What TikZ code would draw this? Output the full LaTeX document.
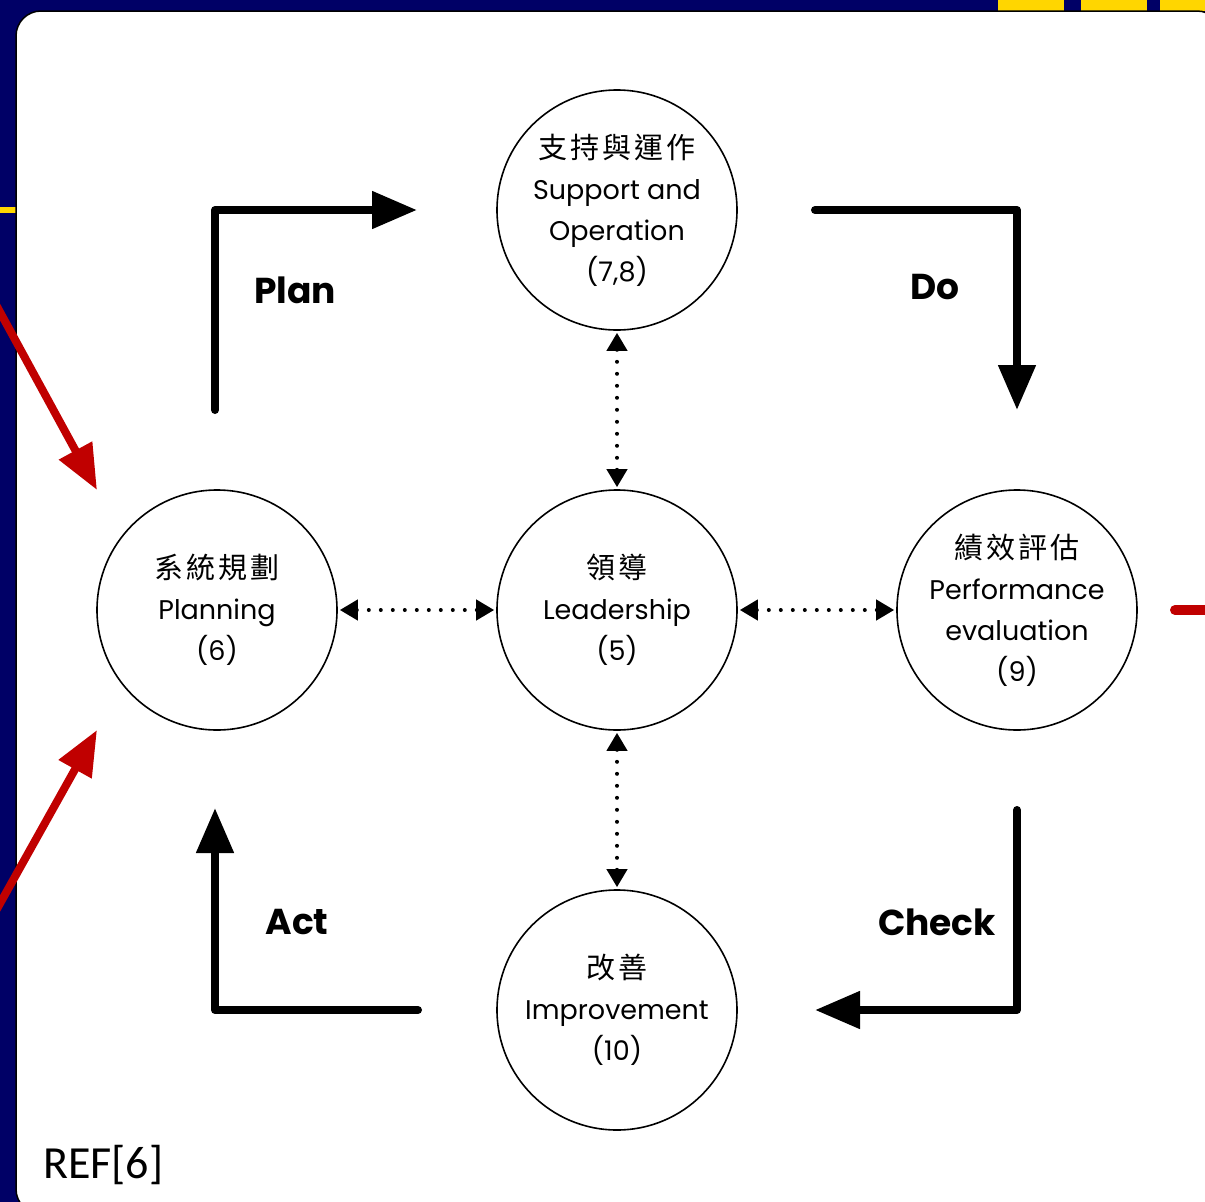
\documentclass[tikz,border=0pt]{standalone}
\usepackage{fontspec}
\setmainfont{Poppins}
\newfontfamily\cjk{Noto Sans CJK TC}[LetterSpace=10]
\newfontfamily\calib{Carlito}
\usetikzlibrary{arrows.meta}
\definecolor{navybg}{RGB}{0,0,102}
\definecolor{goldbar}{RGB}{255,214,0}
\definecolor{redarr}{RGB}{192,0,0}
\tikzset{
  stage/.style={circle, draw=black, line width=1.6pt, fill=white, minimum size=240pt, inner sep=0pt, align=center, font=\fontsize{27}{41}\selectfont},
  flow/.style={line width=8pt, line join=round, line cap=round, -{Triangle[length=45pt,width=36pt]}},
  lbl/.style={font=\fontsize{36}{40}\selectfont\bfseries},
  dots/.style={line width=4pt, dash pattern=on 0pt off 12pt, line cap=round, {Triangle[length=18pt,width=20pt,line cap=butt]}-{Triangle[length=18pt,width=20pt,line cap=butt]}, shorten <=2pt, shorten >=2pt},
  redline/.style={line width=8pt, draw=redarr, -{Triangle[length=45pt,width=36pt]}}
}
\newcommand{\zhtext}[1]{{\cjk\fontsize{29}{41}\selectfont #1}}
\begin{document}
\begin{tikzpicture}[x=1pt,y=-1pt]
\useasboundingbox (0,0) rectangle (1205,1202);
\clip (0,0) rectangle (1205,1202);
\fill[navybg] (0,0) rectangle (1205,1202);
\fill[goldbar] (998,0) rectangle (1064,11);
\fill[goldbar] (1081,0) rectangle (1147,11);
\fill[goldbar] (1160,0) rectangle (1205,11);
\fill[goldbar] (0,207) rectangle (16,213);
\draw[line width=1.5pt, fill=white, rounded corners=25pt] (16,11) rectangle (1222,1214);

% circles
\node[stage] (sup) at (617,210) {\zhtext{支持與運作}\\Support and\\Operation\\(7,8)};
\node[stage] (pln) at (217,610) {\zhtext{系統規劃}\\Planning\\(6)};
\node[stage] (led) at (617,610) {\zhtext{領導}\\Leadership\\(5)};
\node[stage] (per) at (1017,610) {\zhtext{績效評估}\\Performance\\evaluation\\(9)};
\node[stage] (imp) at (617,1010) {\zhtext{改善}\\Improvement\\(10)};

% dotted links
\draw[dots] (pln.east) -- (led.west);
\draw[dots] (led.east) -- (per.west);
\draw[dots] (sup.south) -- (led.north);
\draw[dots] (led.south) -- (imp.north);

% PDCA arrows
\coordinate (p0) at (215,410); \coordinate (p1) at (215,210); \coordinate (p2) at (417,210);
\coordinate (d0) at (815,210); \coordinate (d1) at (1017,210); \coordinate (d2) at (1017,410);
\coordinate (c0) at (1017,810); \coordinate (c1) at (1017,1010); \coordinate (c2) at (815,1010);
\coordinate (a0) at (418,1010); \coordinate (a1) at (215,1010); \coordinate (a2) at (215,808);
\draw[flow] (p0) -- (p1) -- (p2);
\draw[flow] (d0) -- (d1) -- (d2);
\draw[flow] (c0) -- (c1) -- (c2);
\draw[flow] (a0) -- (a1) -- (a2);

\node[lbl] (plan) at (295,290) {Plan};
\node[lbl] (do) at (935,287) {Do};
\node[lbl] (check) at (937,922) {Check};
\node[lbl] (act) at (297,922) {Act};

% red arrows
\coordinate (r1s) at (-12,290); \coordinate (r1e) at (97,490);
\coordinate (r2s) at (-12,925); \coordinate (r2e) at (97,730);
\draw[redline] (r1s) -- (r1e);
\draw[redline] (r2s) -- (r2e);
\coordinate (r3s) at (1175,610); \coordinate (r3e) at (1230,610);
\draw[draw=redarr, line width=10pt, line cap=round] (r3s) -- (r3e);

\node[font=\calib\fontsize{46}{50}\selectfont, anchor=west, inner sep=0pt] (ref) at (43,1165) {REF[6]};
\end{tikzpicture}
\end{document}
